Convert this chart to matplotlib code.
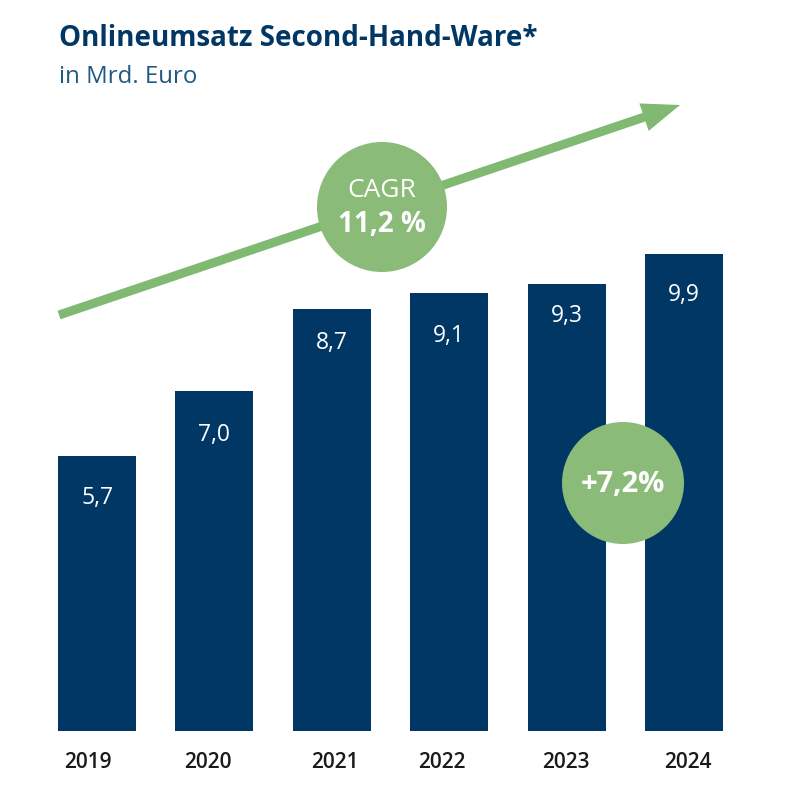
import matplotlib
matplotlib.use("Agg")
import matplotlib.pyplot as plt
from matplotlib.patches import Circle, FancyArrow

# -----------------------
# DATA
# -----------------------
years = ["2019", "2020", "2021", "2022", "2023", "2024"]
values = [5.7, 7.05, 8.76, 9.1, 9.28, 9.9]  # as drawn
value_labels = ["5,7", "7,0", "8,7", "9,1", "9,3", "9,9"]

navy = "#003764"
green = "#8abb78"
arrow_green = "#80b972"
font = "Open Sans"

plt.rcParams["font.family"] = [font, "DejaVu Sans"]

W, H = 800, 789
fig = plt.figure(figsize=(W / 100, H / 100), dpi=100, facecolor="white")

# pixel overlay for arrow, circles and heading
over = fig.add_axes([0, 0, 1, 1], zorder=3)
over.set_xlim(0, W)
over.set_ylim(H, 0)
over.axis("off")
over.patch.set_alpha(0)

# bars: baseline at y=731, 9.9 at y=254
bottom = (H - 731) / H
px_per_unit = (731 - 254) / 9.9
ymax = 731 / px_per_unit
ax = fig.add_axes([0, bottom, 1, 731 / H], zorder=1)
ax.set_ylim(0, ymax)
step = 117.4
first = 97
ax.set_xlim(-first / step, (W - first) / step)
x = list(range(len(years)))
ax.bar(x, values, width=78 / step, color=navy)
ax.axis("off")

# labels sit unevenly in the original, so nudge them per bar (pixels)
label_drop = [42, 44, 34, 43, 32, 41]
year_shift = [-9, -7, 3, -7, -1, 4]

for xi, v, lab, yr, drop, shift in zip(x, values, value_labels, years, label_drop, year_shift):
    ax.text(xi, v - drop / px_per_unit, lab, color="white", fontsize=16.5,
            fontweight="medium", ha="center", va="center")
    ax.annotate(yr, (xi, 0), xytext=(shift, -21), textcoords="offset pixels",
                color="#1a1a1a", fontsize=15, fontweight="semibold",
                ha="center", va="top", annotation_clip=False)

# title
over.text(59, 38, "Onlineumsatz Second-Hand-Ware*", color=navy, fontsize=20,
          fontweight="bold", va="center", ha="left")
over.text(59, 77, "in Mrd. Euro", color="#1f5a85", fontsize=17.3, va="center", ha="left")

# trend arrow
over.add_patch(FancyArrow(59, 315, 621, -210, width=9, head_width=29, head_length=38,
                          length_includes_head=True, color=arrow_green, lw=0))

# circles
over.add_patch(Circle((382, 207), 65, color=green, lw=0, zorder=4))
over.text(382, 190, "CAGR", color="white", fontsize=19, ha="center", va="center", zorder=5)
over.text(382, 224, "11,2 %", color="white", fontsize=20, fontweight="bold",
          ha="center", va="center", zorder=5)
over.add_patch(Circle((623, 483), 61, color=green, lw=0, zorder=4))
over.text(623, 484, "+7,2%", color="white", fontsize=21, fontweight="bold",
          ha="center", va="center", zorder=5)

fig.savefig("out.png", dpi=100)
